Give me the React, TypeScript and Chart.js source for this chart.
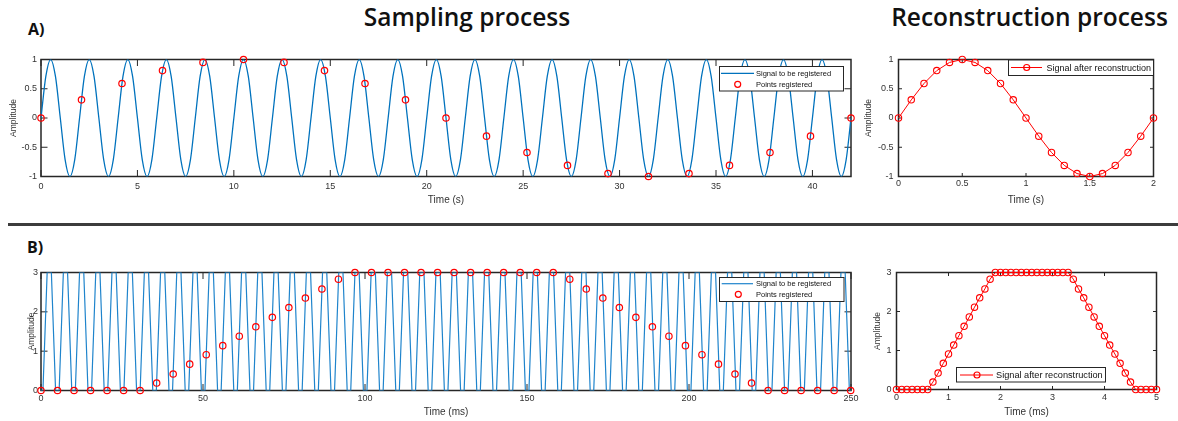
import React, { useEffect, useRef } from 'react';
import { Chart, registerables } from 'chart.js';

Chart.register(...registerables);

// ---------------- Data ----------------
// A) signal to be registered: one cycle of the 0.5 Hz sine, repeated over 0..42 s
const sineCycleTime = [0, 0.25, 0.5, 0.75, 1, 1.25, 1.5, 1.75];
const sineCycleAmp = [0, 0.71, 1, 0.71, 0, -0.71, -1, -0.71];
const sinePeriod = 2;
const sineCycles = 21;

// A) points registered (sampled every 2.1 s)
const sampleTimeA = [0, 2.1, 4.2, 6.3, 8.4, 10.5, 12.6, 14.7, 16.8, 18.9, 21, 23.1, 25.2, 27.3, 29.4, 31.5, 33.6, 35.7, 37.8, 39.9, 42];
const sampleAmpA = [0, 0.31, 0.59, 0.81, 0.95, 1, 0.95, 0.81, 0.59, 0.31, 0, -0.31, -0.59, -0.81, -0.95, -1, -0.95, -0.81, -0.59, -0.31, 0];

// A) signal after reconstruction
const reconTimeA = [0, 0.1, 0.2, 0.3, 0.4, 0.5, 0.6, 0.7, 0.8, 0.9, 1, 1.1, 1.2, 1.3, 1.4, 1.5, 1.6, 1.7, 1.8, 1.9, 2];
const reconAmpA = [0, 0.31, 0.59, 0.81, 0.95, 1, 0.95, 0.81, 0.59, 0.31, 0, -0.31, -0.59, -0.81, -0.95, -1, -0.95, -0.81, -0.59, -0.31, 0];

// B) signal to be registered: one trapezoid cycle (5 ms), repeated over 0..250 ms
const trapCycleTime = [0, 0.6, 1.9, 3.2, 4.5];
const trapCycleAmp = [0, 0, 3, 3, 0];
const trapPeriod = 5;
const trapCycles = 50;

// B) points registered (sampled every 5.1 ms)
const sampleTimeB = [0, 5.1, 10.2, 15.3, 20.4, 25.5, 30.6, 35.7, 40.8, 45.9, 51, 56.1, 61.2, 66.3, 71.4, 76.5, 81.6, 86.7, 91.8, 96.9, 102, 107.1, 112.2, 117.3, 122.4, 127.5, 132.6, 137.7, 142.8, 147.9, 153, 158.1, 163.2, 168.3, 173.4, 178.5, 183.6, 188.7, 193.8, 198.9, 204, 209.1, 214.2, 219.3, 224.4, 229.5, 234.6, 239.7, 244.8, 249.9];
const sampleAmpB = [0, 0, 0, 0, 0, 0, 0, 0.19, 0.42, 0.67, 0.91, 1.14, 1.38, 1.62, 1.86, 2.11, 2.35, 2.58, 2.83, 3, 3, 3, 3, 3, 3, 3, 3, 3, 3, 3, 3, 3, 2.83, 2.58, 2.35, 2.11, 1.86, 1.62, 1.38, 1.14, 0.91, 0.67, 0.42, 0.19, 0, 0, 0, 0, 0, 0];

// B) signal after reconstruction
const reconTimeB = [0, 0.1, 0.2, 0.3, 0.4, 0.5, 0.6, 0.7, 0.8, 0.9, 1, 1.1, 1.2, 1.3, 1.4, 1.5, 1.6, 1.7, 1.8, 1.9, 2, 2.1, 2.2, 2.3, 2.4, 2.5, 2.6, 2.7, 2.8, 2.9, 3, 3.1, 3.2, 3.3, 3.4, 3.5, 3.6, 3.7, 3.8, 3.9, 4, 4.1, 4.2, 4.3, 4.4, 4.5, 4.6, 4.7, 4.8, 4.9, 5];
const reconAmpB = [0, 0, 0, 0, 0, 0, 0, 0.19, 0.42, 0.67, 0.91, 1.14, 1.38, 1.62, 1.86, 2.11, 2.35, 2.58, 2.83, 3, 3, 3, 3, 3, 3, 3, 3, 3, 3, 3, 3, 3, 3, 3, 2.83, 2.58, 2.35, 2.11, 1.86, 1.62, 1.38, 1.14, 0.91, 0.67, 0.42, 0.19, 0, 0, 0, 0, 0, 0];

// Tick labels
const xTicksA = [0, 5, 10, 15, 20, 25, 30, 35, 40];
const yTicksA = [-1, -0.5, 0, 0.5, 1];
const xTicksAR = [0, 0.5, 1, 1.5, 2];
const xTicksB = [0, 50, 100, 150, 200, 250];
const yTicksB = [0, 1, 2, 3];
const xTicksBR = [0, 1, 2, 3, 4, 5];

// ---------------- Styling ----------------
const FONT = '"Liberation Sans", Arial, sans-serif';
const TITLE_FONT = '"Open Sans", "Liberation Sans", sans-serif';
const AXIS_COLOR = '#262626';
const TEXT_COLOR = '#333333';
const BLUE = '#0072BD';
const BLUE_B = '#1f84cc';
const RED = '#FF0000';

const pair = (xs: number[], ys: number[]) => xs.map((x, i) => ({ x, y: ys[i] }));
const tile = (ts: number[], as: number[], period: number, cycles: number) => {
  const pts: { x: number; y: number }[] = [];
  for (let c = 0; c < cycles; c++) ts.forEach((t, i) => pts.push({ x: c * period + t, y: as[i] }));
  pts.push({ x: cycles * period, y: as[0] });
  return pts;
};

const matlabAxes = {
  id: 'matlabAxes',
  beforeDatasetsDraw(chart: any) {
    const { ctx, chartArea: a } = chart;
    const xs = chart.scales.x;
    const ys = chart.scales.y;
    const tl = chart.options.plugins.matlabAxes.tickLen;
    ctx.save();
    ctx.strokeStyle = AXIS_COLOR;
    ctx.lineWidth = 1;
    ctx.beginPath();
    for (const t of xs.ticks) {
      const px = xs.getPixelForValue(t.value);
      ctx.moveTo(px, a.bottom); ctx.lineTo(px, a.bottom - tl);
      ctx.moveTo(px, a.top); ctx.lineTo(px, a.top + tl);
    }
    for (const t of ys.ticks) {
      const py = ys.getPixelForValue(t.value);
      ctx.moveTo(a.left, py); ctx.lineTo(a.left + tl, py);
      ctx.moveTo(a.right, py); ctx.lineTo(a.right - tl, py);
    }
    ctx.stroke();
    ctx.lineWidth = 1.5;
    ctx.strokeRect(a.left, a.top, a.right - a.left, a.bottom - a.top);
    ctx.restore();
  },
};

type AxisSpec = { min: number; max: number; ticks: number[]; title: string; tickPad: number; titlePad: number; size: number; titleSize: number };
type PanelProps = {
  left: number; top: number; width: number; height: number;
  pad: { left: number; top: number; right: number; bottom: number };
  x: AxisSpec; y: AxisSpec; tickLen: number; datasets: any[];
};

function axis(spec: AxisSpec, horizontal: boolean) {
  return {
    type: 'linear',
    min: spec.min,
    max: spec.max,
    afterBuildTicks: (s: any) => { s.ticks = spec.ticks.map((v) => ({ value: v })); },
    afterFit: (s: any) => { if (horizontal) s.height = spec.size; else s.width = spec.size; },
    grid: { display: false, drawTicks: false },
    border: { display: false },
    ticks: {
      padding: spec.tickPad, autoSkip: false, maxRotation: 0, minRotation: 0,
      color: TEXT_COLOR, font: { family: FONT, size: 9 },
      callback: (v: any) => String(v),
    },
    title: {
      display: true, text: spec.title, color: TEXT_COLOR,
      font: { family: FONT, size: spec.titleSize },
      padding: horizontal ? { top: 0, bottom: spec.titlePad } : { top: spec.titlePad, bottom: 0 },
    },
  };
}

function Panel(p: PanelProps) {
  const ref = useRef<HTMLCanvasElement>(null);
  useEffect(() => {
    const chart = new Chart(ref.current as HTMLCanvasElement, {
      type: 'scatter',
      data: { datasets: p.datasets },
      options: {
        responsive: false,
        maintainAspectRatio: false,
        animation: false,
        events: [],
        layout: { padding: p.pad },
        scales: { x: axis(p.x, true), y: axis(p.y, false) } as any,
        plugins: { legend: { display: false }, tooltip: { enabled: false }, matlabAxes: { tickLen: p.tickLen } } as any,
      },
      plugins: [matlabAxes as any],
    });
    return () => chart.destroy();
  }, []);
  return (
    <canvas ref={ref} width={p.width} height={p.height}
      style={{ position: 'absolute', left: p.left, top: p.top, width: p.width, height: p.height }} />
  );
}

const pointsStyle = {
  showLine: false, pointStyle: 'circle', pointRadius: 3.2, pointBorderWidth: 1.2,
  pointBorderColor: RED, pointBackgroundColor: 'rgba(0,0,0,0)', clip: false, order: 0,
};
const reconStyle = {
  showLine: true, borderColor: RED, borderWidth: 1, pointStyle: 'circle', pointRadius: 3.2, pointBorderWidth: 1.1,
  pointBorderColor: RED, pointBackgroundColor: 'rgba(0,0,0,0)', clip: false, order: 0,
};

// ---------------- SVG legend helpers ----------------
const LBox = ({ l, t, w, h }: any) => (
  <rect x={l} y={t} width={w} height={h} fill="#fff" stroke={AXIS_COLOR} strokeWidth={1} />
);
const LLine = ({ x1, x2, y, color, w }: any) => (
  <line x1={x1} x2={x2} y1={y} y2={y} stroke={color} strokeWidth={w} />
);
const LMarker = ({ cx, cy, r }: any) => (
  <circle cx={cx} cy={cy} r={r} fill="none" stroke={RED} strokeWidth={1.2} />
);
const LText = ({ x, y, size, text }: any) => (
  <text x={x} y={y} dominantBaseline="central" fontFamily={FONT} fontSize={size} fill="#111">{text}</text>
);

export default function App() {
  const blueA = tile(sineCycleTime, sineCycleAmp, sinePeriod, sineCycles);
  const blueB = tile(trapCycleTime, trapCycleAmp, trapPeriod, trapCycles);

  return (
    <div style={{ position: 'absolute', left: 0, top: 0, width: 1178, height: 421, overflow: 'hidden', background: '#fff' }}>
      <div style={{ position: 'absolute', left: 267, top: 5.3, width: 400, textAlign: 'center', fontFamily: TITLE_FONT, fontWeight: 600, fontSize: 24.5, lineHeight: '24.5px', color: '#111' }}>Sampling process</div>
      <div style={{ position: 'absolute', left: 829.5, top: 5.3, width: 400, textAlign: 'center', fontFamily: TITLE_FONT, fontWeight: 600, fontSize: 24.5, lineHeight: '24.5px', color: '#111' }}>Reconstruction process</div>
      <div style={{ position: 'absolute', left: 28, top: 20.5, fontFamily: TITLE_FONT, fontWeight: 700, fontSize: 16, lineHeight: '16px', color: '#111' }}>A)</div>
      <div style={{ position: 'absolute', left: 27, top: 238.5, fontFamily: TITLE_FONT, fontWeight: 700, fontSize: 16, lineHeight: '16px', color: '#111' }}>B)</div>
      <div style={{ position: 'absolute', left: 8, top: 222.5, width: 1170, height: 3, background: '#3c3c3c' }} />

      <Panel left={0} top={40} width={862} height={172}
        pad={{ left: 0, top: 19.5, right: 11, bottom: 0 }} tickLen={6.5}
        x={{ min: 0, max: 42, ticks: xTicksA, title: 'Time (s)', tickPad: 5, titlePad: 6, size: 35.5, titleSize: 10 }}
        y={{ min: -1, max: 1, ticks: yTicksA, title: 'Amplitude', tickPad: 4, titlePad: 8.9, size: 41, titleSize: 8.5 }}
        datasets={[
          { label: 'Points registered', data: pair(sampleTimeA, sampleAmpA), ...pointsStyle },
          { label: 'Signal to be registered', data: blueA, showLine: true, borderColor: BLUE, borderWidth: 1.3, pointRadius: 0, cubicInterpolationMode: 'monotone', order: 1 },
        ]} />

      <Panel left={862} top={40} width={316} height={172}
        pad={{ left: 0, top: 19.5, right: 24.5, bottom: 0 }} tickLen={3.5}
        x={{ min: 0, max: 2, ticks: xTicksAR, title: 'Time (s)', tickPad: 2, titlePad: 6, size: 35.5, titleSize: 10 }}
        y={{ min: -1, max: 1, ticks: yTicksA, title: 'Amplitude', tickPad: 5, titlePad: 1.9, size: 36.5, titleSize: 8.5 }}
        datasets={[
          { label: 'Signal after reconstruction', data: pair(reconTimeA, reconAmpA), ...reconStyle },
        ]} />

      <Panel left={0} top={252} width={862} height={169}
        pad={{ left: 0, top: 20.5, right: 11, bottom: 0 }} tickLen={6.5}
        x={{ min: 0, max: 250, ticks: xTicksB, title: 'Time (ms)', tickPad: 2.4, titlePad: 2.3, size: 30.5, titleSize: 10 }}
        y={{ min: 0, max: 3, ticks: yTicksB, title: 'Amplitude', tickPad: 3, titlePad: 26.9, size: 41, titleSize: 8.5 }}
        datasets={[
          { label: 'Points registered', data: pair(sampleTimeB, sampleAmpB), ...pointsStyle },
          { label: 'Signal to be registered', data: blueB, showLine: true, borderColor: BLUE_B, borderWidth: 1.2, pointRadius: 0, order: 1 },
        ]} />

      <Panel left={862} top={252} width={316} height={169}
        pad={{ left: 0, top: 20.5, right: 21.5, bottom: 0 }} tickLen={3.5}
        x={{ min: 0, max: 5, ticks: xTicksBR, title: 'Time (ms)', tickPad: 3, titlePad: 2.3, size: 31.5, titleSize: 10 }}
        y={{ min: 0, max: 3, ticks: yTicksB, title: 'Amplitude', tickPad: 5, titlePad: 10.9, size: 34.5, titleSize: 8.5 }}
        datasets={[
          { label: 'Signal after reconstruction', data: pair(reconTimeB, reconAmpB), ...reconStyle },
        ]} />

      <svg width={1178} height={421} style={{ position: 'absolute', left: 0, top: 0, pointerEvents: 'none' }}>
        {/* Legend A left */}
        <LBox l={719.5} t={66.5} w={124} h={24.5} />
        <LLine x1={721} x2={754} y={73.3} color={BLUE} w={1.3} />
        <LText x={756} y={73.3} size={7.5} text="Signal to be registered" />
        <LMarker cx={737.7} cy={84.3} r={3} />
        <LText x={756} y={84.3} size={7.5} text="Points registered" />

        {/* Legend A right */}
        <LBox l={1008.5} t={60} w={145} h={15.5} />
        <LLine x1={1011} x2={1042} y={67.5} color={RED} w={1} />
        <LMarker cx={1026.7} cy={67.5} r={3} />
        <LText x={1046.5} y={67.5} size={9} text="Signal after reconstruction" />

        {/* Legend B left */}
        <LBox l={719.5} t={277.5} w={124.5} h={24} />
        <LLine x1={721.7} x2={753} y={283.7} color={BLUE_B} w={1.2} />
        <LText x={756} y={283.7} size={7.5} text="Signal to be registered" />
        <LMarker cx={738.3} cy={294.3} r={3} />
        <LText x={756} y={294.3} size={7.5} text="Points registered" />

        {/* Legend B right */}
        <LBox l={956.5} t={367.5} w={149} h={14.5} />
        <LLine x1={960} x2={993} y={375} color={RED} w={1} />
        <LMarker cx={977} cy={375} r={3} />
        <LText x={996} y={375} size={9.2} text="Signal after reconstruction" />
      </svg>
    </div>
  );
}
